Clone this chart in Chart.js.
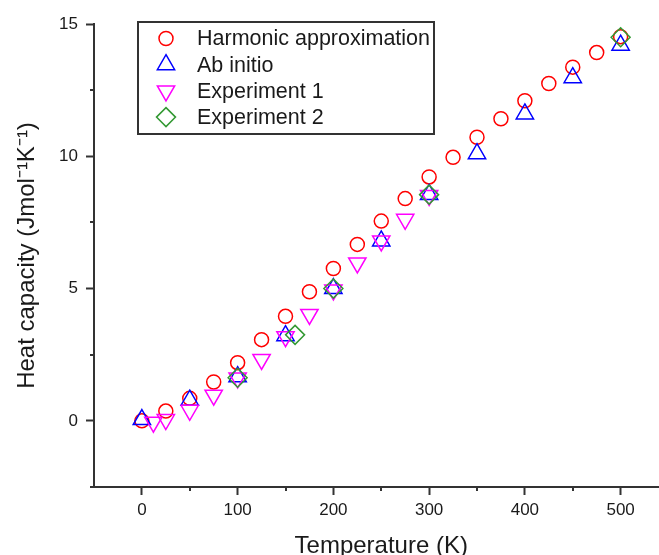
<!DOCTYPE html>
<html>
<head>
<meta charset="utf-8">
<script src="https://cdn.jsdelivr.net/npm/chart.js@4/dist/chart.umd.min.js"></script>
<style>
html, body { margin: 0; padding: 0; overflow: hidden; background: #fff; }
</style>
</head>
<body>
<canvas id="chart1" width="680" height="575"></canvas>
<script>
'use strict';

// Temperature (K) and heat capacity (J mol-1 K-1)
var harmonicT = [0, 25, 50, 75, 100, 125, 150, 175, 200, 225, 250, 275, 300, 325, 350, 375, 400, 425, 450, 475, 500];
var harmonicC = [0, 0.37, 0.85, 1.47, 2.2, 3.07, 3.95, 4.88, 5.76, 6.67, 7.55, 8.4, 9.22, 9.96, 10.72, 11.42, 12.1, 12.75, 13.37, 13.92, 14.52];

var abInitioT = [0, 50, 100, 150, 200, 250, 300, 350, 400, 450, 500];
var abInitioC = [0.05, 0.78, 1.67, 3.22, 5.0, 6.8, 8.56, 10.1, 11.6, 12.97, 14.2];

var exp1T = [12, 25, 50, 75, 100, 125, 150, 175, 200, 225, 250, 275, 300];
var exp1C = [-0.05, 0.05, 0.4, 0.97, 1.62, 2.32, 3.18, 4.02, 4.95, 5.97, 6.8, 7.62, 8.52];

var exp2T = [100, 160, 200, 300, 500];
var exp2C = [1.63, 3.25, 5.0, 8.55, 14.5];

var xTickValues = [0, 100, 200, 300, 400, 500];
var xMinorValues = [50, 150, 250, 350, 450];
var yTickValues = [0, 5, 10, 15];
var yMinorValues = [-2.5, 2.5, 7.5, 12.5];

var FONT = 'Liberation Sans, Arial, sans-serif';
var AXIS = '#333333';
var TEXT = '#1a1a1a';

var toPoints = function(xs, ys) {
	return xs.map(function(x, i) { return {x: x, y: ys[i]}; });
};

// legend markers drawn by hand, Origin style
var drawMarker = function(ctx, ds, x, y) {
	var r = ds.pointRadius;
	ctx.save();
	ctx.strokeStyle = ds.borderColor;
	ctx.lineWidth = ds.borderWidth;
	ctx.beginPath();
	if (ds.pointStyle === 'circle') {
		ctx.arc(x, y, r, 0, Math.PI * 2);
	} else if (ds.pointStyle === 'triangle') {
		var s = ds.rotation === 180 ? -1 : 1;
		ctx.moveTo(x, y - s * r);
		ctx.lineTo(x + r * Math.sqrt(3) / 2, y + s * r / 2);
		ctx.lineTo(x - r * Math.sqrt(3) / 2, y + s * r / 2);
		ctx.closePath();
	} else {
		ctx.moveTo(x, y - r);
		ctx.lineTo(x + r, y);
		ctx.lineTo(x, y + r);
		ctx.lineTo(x - r, y);
		ctx.closePath();
	}
	ctx.stroke();
	ctx.restore();
};

var boxLegend = {
	id: 'boxLegend',
	afterDraw: function(chart) {
		var ctx = chart.ctx;
		ctx.save();
		ctx.strokeStyle = AXIS;
		ctx.lineWidth = 2;
		ctx.strokeRect(138, 22, 296, 112);
		ctx.font = '21.5px ' + FONT;
		ctx.fillStyle = TEXT;
		ctx.textBaseline = 'middle';
		chart.data.datasets.forEach(function(ds, i) {
			var y = 38.5 + i * 26.2;
			drawMarker(ctx, ds, 166, y);
			ctx.fillText(ds.label, 197, y + 1);
		});
		ctx.restore();
	}
};

var minorTicks = {
	id: 'minorTicks',
	afterDraw: function(chart) {
		var ctx = chart.ctx, xs = chart.scales.x, ys = chart.scales.y;
		ctx.save();
		ctx.strokeStyle = AXIS;
		ctx.lineWidth = 2;
		ctx.beginPath();
		xMinorValues.forEach(function(v) {
			var px = Math.round(xs.getPixelForValue(v));
			ctx.moveTo(px, xs.top);
			ctx.lineTo(px, xs.top + 4);
		});
		yMinorValues.forEach(function(v) {
			var py = Math.round(ys.getPixelForValue(v));
			ctx.moveTo(ys.right, py);
			ctx.lineTo(ys.right - 4, py);
		});
		ctx.stroke();
		ctx.restore();
	}
};

var ctx = document.getElementById('chart1').getContext('2d');
var heatChart = new Chart(ctx, {
	type: 'scatter',
	data: {
		datasets: [{
			label: 'Harmonic approximation',
			data: toPoints(harmonicT, harmonicC),
			pointStyle: 'circle',
			pointRadius: 7,
			borderColor: '#ff0000',
			borderWidth: 1.5,
			backgroundColor: 'rgba(0,0,0,0)',
			order: 4
		}, {
			label: 'Ab initio',
			data: toPoints(abInitioT, abInitioC),
			pointStyle: 'triangle',
			pointRadius: 10,
			borderColor: '#0000ff',
			borderWidth: 1.5,
			backgroundColor: 'rgba(0,0,0,0)',
			order: 3
		}, {
			label: 'Experiment 1',
			data: toPoints(exp1T, exp1C),
			pointStyle: 'triangle',
			rotation: 180,
			pointRadius: 10,
			borderColor: '#ff00ff',
			borderWidth: 1.5,
			backgroundColor: 'rgba(0,0,0,0)',
			order: 2
		}, {
			label: 'Experiment 2',
			data: toPoints(exp2T, exp2C),
			pointStyle: 'rectRot',
			pointRadius: 9.5,
			borderColor: '#339933',
			borderWidth: 1.5,
			backgroundColor: 'rgba(0,0,0,0)',
			order: 1
		}]
	},
	options: {
		responsive: false,
		animation: false,
		devicePixelRatio: 1,
		layout: {
			padding: {top: 24, left: 0, right: 0, bottom: 0}
		},
		plugins: {
			legend: {display: false},
			tooltip: {enabled: false}
		},
		scales: {
			x: {
				type: 'linear',
				min: -50,
				max: 550,
				border: {color: AXIS, width: 2},
				grid: {drawOnChartArea: false, drawTicks: true, tickLength: 8, tickWidth: 2, tickColor: AXIS},
				ticks: {color: TEXT, font: {family: FONT, size: 17}, padding: 5, maxRotation: 0},
				afterBuildTicks: function(scale) {
					scale.ticks = xTickValues.map(function(v) { return {value: v}; });
				},
				afterFit: function(scale) {
					scale.height = 88;
				},
				title: {
					display: true,
					text: 'Temperature (K)',
					color: TEXT,
					font: {family: FONT, size: 24},
					padding: {top: 0, bottom: 14}
				}
			},
			y: {
				type: 'linear',
				min: -2.5,
				max: 15,
				border: {color: AXIS, width: 2},
				grid: {drawOnChartArea: false, drawTicks: true, tickLength: 8, tickWidth: 2, tickColor: AXIS},
				ticks: {color: TEXT, font: {family: FONT, size: 17}, padding: 8},
				afterBuildTicks: function(scale) {
					scale.ticks = yTickValues.map(function(v) { return {value: v}; });
				},
				afterFit: function(scale) {
					scale.width = 94;
				},
				title: {
					display: true,
					text: 'Heat capacity (Jmol\u207B\u00B9K\u207B\u00B9)',
					color: TEXT,
					font: {family: FONT, size: 24},
					padding: {top: 13, bottom: 0}
				}
			}
		}
	},
	plugins: [minorTicks, boxLegend]
});
</script>
</body>
</html>
